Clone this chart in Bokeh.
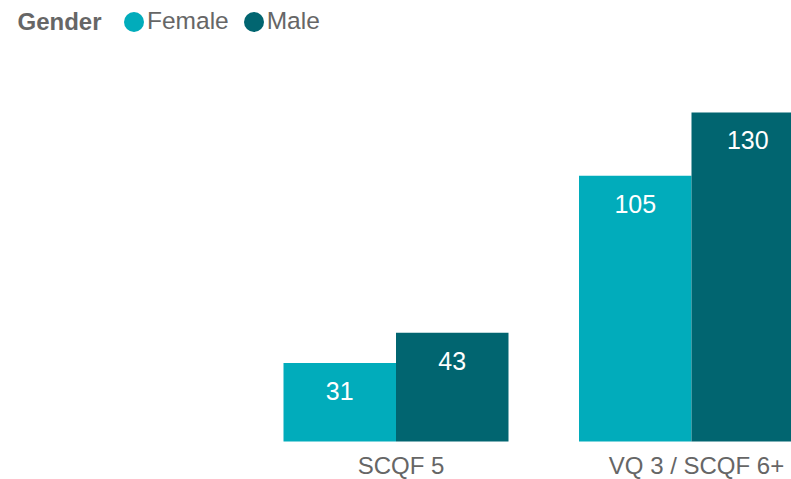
from bokeh.plotting import figure
from bokeh.models import Range1d, Legend, LegendItem, Label, ColumnDataSource
from bokeh.embed import file_html
from bokeh.resources import INLINE
from bokeh.core.properties import value
import numpy as np

categories = ["SCQF 5", "VQ 3 / SCQF 6+"]
female = [31, 105]
male = [43, 130]
legend_title = "Gender"
series_names = ["Female", "Male"]

FEMALE_C = "#01ACBB"
MALE_C = "#016570"
GREY = "#666666"
FONT = "Liberation Sans"

xs = np.arange(len(categories))
bw = 0.3807

p = figure(width=791, height=479, output_backend="svg", toolbar_location=None,
           x_range=Range1d(-1.3384, 1.3384), y_range=Range1d(-15.0, 174.25),
           min_border_left=0, min_border_right=0, min_border_top=0, min_border_bottom=0)
p.outline_line_color = None
p.grid.visible = False
p.axis.visible = False
p.background_fill_color = "white"
p.border_fill_color = "white"

src_f = ColumnDataSource(dict(x=xs - bw / 2, top=female, lab=[str(v) for v in female]))
src_m = ColumnDataSource(dict(x=xs + bw / 2, top=male, lab=[str(v) for v in male]))
src_c = ColumnDataSource(dict(x=xs, y=np.zeros(len(categories)), lab=categories))

p.vbar(x="x", top="top", bottom=0, width=bw, source=src_f, fill_color=FEMALE_C, line_color=None)
p.vbar(x="x", top="top", bottom=0, width=bw, source=src_m, fill_color=MALE_C, line_color=None)

for s in (src_f, src_m):
    p.text(x="x", y="top", text="lab", source=s, text_color="white", text_font=value(FONT),
           text_font_size="25px", text_align="center", text_baseline="middle", y_offset=28)

# category labels under the bars
p.text(x="x", y="y", text="lab", source=src_c, text_color=GREY, text_font=value(FONT),
       text_font_size="24px", text_align="center", text_baseline="middle",
       x_offset=5, y_offset=24)

# legend markers: ellipses of negligible screen size, the legend draws a full circle
rf = p.ellipse(x="x", y="top", source=src_f, width=0.01, height=0.01,
               width_units="screen", height_units="screen", fill_color=FEMALE_C, line_color=None)
rm = p.ellipse(x="x", y="top", source=src_m, width=0.01, height=0.01,
               width_units="screen", height_units="screen", fill_color=MALE_C, line_color=None)
leg = Legend(items=[LegendItem(label=series_names[0], renderers=[rf]),
                    LegendItem(label=series_names[1], renderers=[rm])],
             orientation="horizontal", location=(121, 444), padding=0, margin=0,
             glyph_width=25, glyph_height=25, label_standoff=1, spacing=12,
             label_text_font=FONT, label_text_font_size="24.5px", label_text_color=GREY,
             label_text_baseline="middle",
             background_fill_alpha=0, border_line_color=None)
p.add_layout(leg, "center")

p.add_layout(Label(x=17, y=458.5, x_units="screen", y_units="screen", text=legend_title,
                   text_font=FONT, text_font_size="24px", text_font_style="bold",
                   text_color=GREY, text_baseline="middle"))

open("out.html", "w").write(file_html(p, INLINE))
